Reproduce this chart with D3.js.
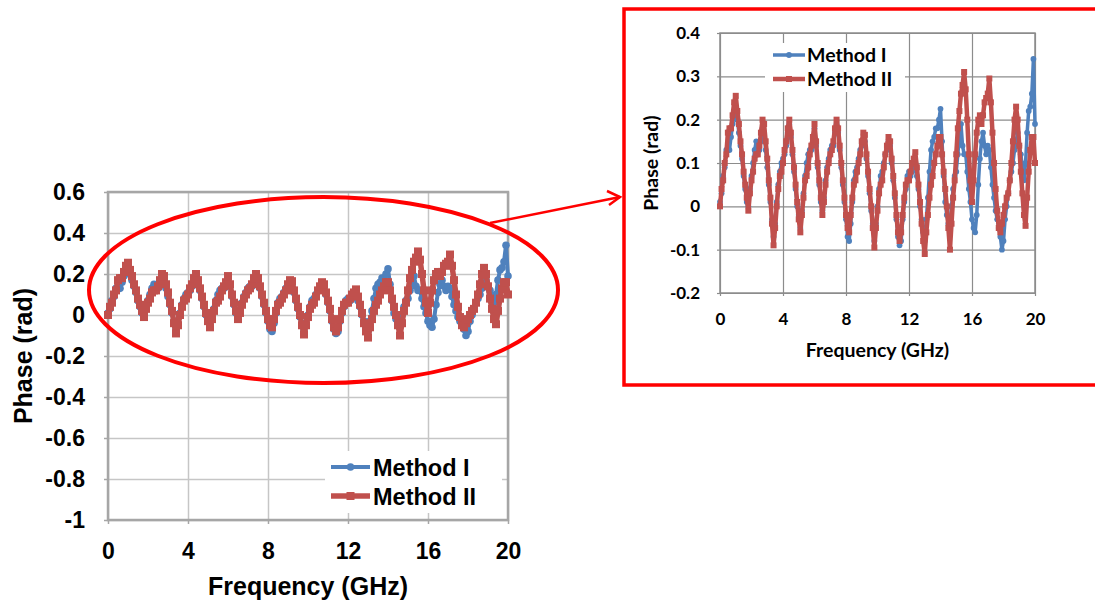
<!DOCTYPE html>
<html><head><meta charset="utf-8">
<script src="https://cdn.jsdelivr.net/npm/d3@7"></script>
<style>body{margin:0;background:#fff} svg{display:block}</style>
</head><body><svg id="c" width="1095" height="605"></svg>
<script>
// Frequency grid (GHz)
const frequency = [
0.0,0.1,0.2,0.3,0.4,0.5,0.6,0.7,0.8,0.9,1.0,1.1,1.2,1.3,1.4,1.5,1.6,1.7,1.8,1.9,
2.0,2.1,2.2,2.3,2.4,2.5,2.6,2.7,2.8,2.9,3.0,3.1,3.2,3.3,3.4,3.5,3.6,3.7,3.8,3.9,
4.0,4.1,4.2,4.3,4.4,4.5,4.6,4.7,4.8,4.9,5.0,5.1,5.2,5.3,5.4,5.5,5.6,5.7,5.8,5.9,
6.0,6.1,6.2,6.3,6.4,6.5,6.6,6.7,6.8,6.9,7.0,7.1,7.2,7.3,7.4,7.5,7.6,7.7,7.8,7.9,
8.0,8.1,8.2,8.3,8.4,8.5,8.6,8.7,8.8,8.9,9.0,9.1,9.2,9.3,9.4,9.5,9.6,9.7,9.8,9.9,
10.0,10.1,10.2,10.3,10.4,10.5,10.6,10.7,10.8,10.9,11.0,11.1,11.2,11.3,11.4,11.5,11.6,11.7,11.8,11.9,
12.0,12.1,12.2,12.3,12.4,12.5,12.6,12.7,12.8,12.9,13.0,13.1,13.2,13.3,13.4,13.5,13.6,13.7,13.8,13.9,
14.0,14.1,14.2,14.3,14.4,14.5,14.6,14.7,14.8,14.9,15.0,15.1,15.2,15.3,15.4,15.5,15.6,15.7,15.8,15.9,
16.0,16.1,16.2,16.3,16.4,16.5,16.6,16.7,16.8,16.9,17.0,17.1,17.2,17.3,17.4,17.5,17.6,17.7,17.8,17.9,
18.0,18.1,18.2,18.3,18.4,18.5,18.6,18.7,18.8,18.9,19.0,19.1,19.2,19.3,19.4,19.5,19.6,19.7,19.8,19.9,
20.0];

// Method I phase (rad)
const methodI = [
0.01,0.03,0.07,0.09,0.13,0.14,0.13,0.16,0.19,0.21,0.22,0.20,0.17,0.14,0.11,0.07,0.04,0.01,0.00,0.04,
0.07,0.10,0.13,0.15,0.14,0.13,0.15,0.18,0.17,0.13,0.09,0.05,0.01,-0.03,-0.07,-0.04,0.01,0.05,0.08,0.10,
0.11,0.12,0.14,0.17,0.19,0.16,0.12,0.08,0.04,0.00,-0.02,-0.05,-0.01,0.03,0.07,0.10,0.12,0.13,0.13,0.15,
0.18,0.14,0.09,0.05,0.01,-0.01,0.02,0.06,0.09,0.11,0.13,0.14,0.14,0.17,0.19,0.17,0.13,0.09,0.05,0.01,
-0.03,-0.07,-0.08,-0.04,0.01,0.06,0.08,0.09,0.11,0.13,0.14,0.15,0.15,0.11,0.07,0.03,-0.01,-0.04,-0.08,-0.04,
0.00,0.04,0.07,0.08,0.10,0.12,0.13,0.15,0.14,0.10,0.06,0.02,-0.03,-0.07,-0.09,-0.08,-0.03,0.01,0.04,0.07,
0.08,0.07,0.08,0.10,0.10,0.07,0.04,0.00,-0.03,-0.06,-0.08,-0.03,0.02,0.08,0.13,0.15,0.16,0.18,0.18,0.20,
0.225,0.15,0.07,0.01,-0.02,-0.04,-0.04,0.00,0.04,0.07,0.08,0.12,0.16,0.19,0.14,0.12,0.12,0.08,0.04,0.01,
-0.03,-0.05,-0.06,-0.02,0.05,0.11,0.15,0.17,0.14,0.12,0.14,0.13,0.09,0.05,0.02,-0.01,-0.03,-0.05,-0.07,-0.10,
-0.08,-0.03,0.00,0.03,0.06,0.08,0.10,0.13,0.15,0.17,0.14,0.12,0.09,0.06,0.10,0.17,0.22,0.23,0.26,0.34,
0.19];

// Method II phase (rad)
const methodII = [
0.00,0.04,0.06,0.10,0.12,0.17,0.18,0.18,0.21,0.24,0.255,0.22,0.19,0.15,0.12,0.08,0.05,0.02,-0.01,0.03,
0.06,0.08,0.11,0.12,0.12,0.14,0.17,0.20,0.19,0.15,0.11,0.06,0.02,-0.04,-0.09,-0.05,0.00,0.04,0.07,0.08,
0.10,0.13,0.15,0.18,0.20,0.17,0.13,0.09,0.05,0.01,-0.03,-0.06,-0.02,0.02,0.06,0.07,0.09,0.12,0.14,0.16,
0.19,0.15,0.10,0.06,0.02,-0.02,0.01,0.05,0.08,0.10,0.12,0.13,0.15,0.18,0.20,0.18,0.14,0.10,0.06,0.02,
-0.02,-0.05,-0.06,-0.02,0.02,0.05,0.06,0.08,0.10,0.12,0.15,0.17,0.165,0.12,0.08,0.04,0.00,-0.05,-0.095,-0.05,
-0.01,0.03,0.05,0.06,0.09,0.12,0.14,0.16,0.15,0.11,0.07,0.03,-0.02,-0.06,-0.08,-0.06,-0.02,0.02,0.05,0.06,
0.06,0.08,0.10,0.11,0.125,0.09,0.05,0.01,-0.04,-0.08,-0.11,-0.06,-0.02,0.02,0.05,0.07,0.10,0.12,0.14,0.16,
0.16,0.12,0.08,0.04,0.00,-0.05,-0.10,-0.04,0.02,0.06,0.12,0.18,0.22,0.26,0.28,0.31,0.27,0.20,0.12,0.06,
0.01,0.06,0.12,0.17,0.20,0.21,0.19,0.21,0.24,0.25,0.26,0.295,0.24,0.17,0.10,0.04,-0.01,-0.05,-0.06,-0.04,
-0.02,0.00,0.02,0.03,0.06,0.10,0.15,0.20,0.23,0.20,0.14,0.08,0.03,-0.02,-0.045,0.02,0.08,0.13,0.16,0.16,
0.10];

const seriesNames = ["Method I", "Method II"];
const seriesColors = ["#4F81BD", "#C0504D"];
const xTicks = [0, 4, 8, 12, 16, 20];
const yTicksMain = [0.6, 0.4, 0.2, 0, -0.2, -0.4, -0.6, -0.8, -1];
const yTicksInset = [0.4, 0.3, 0.2, 0.1, 0, -0.1, -0.2];
const xTitle = "Frequency (GHz)";
const yTitle = "Phase (rad)";

const svg = d3.select("#c");
const fmt = d => d === 0 ? "0" : String(+d.toFixed(1));

function drawChart(cfg) {
  const g = svg.append("g");
  const x = d3.scaleLinear().domain([0, 20]).range([cfg.left, cfg.right]);
  const y = d3.scaleLinear().domain(cfg.yDomain).range([cfg.bottom, cfg.top]);
  const W = cfg.right - cfg.left, H = cfg.bottom - cfg.top;

  // gridlines
  g.append("g").attr("transform", `translate(${cfg.left},0)`)
    .call(d3.axisLeft(y).tickValues(cfg.yTicks).tickSize(-W).tickFormat(""))
    .call(s => s.select(".domain").remove())
    .call(s => s.selectAll("line").attr("stroke", cfg.gridColor).attr("stroke-width", cfg.gridWidth));
  g.append("g").attr("transform", `translate(0,${cfg.bottom})`)
    .call(d3.axisBottom(x).tickValues(xTicks).tickSize(-H).tickFormat(""))
    .call(s => s.select(".domain").remove())
    .call(s => s.selectAll("line").attr("stroke", cfg.gridColor).attr("stroke-width", cfg.gridWidth));

  // axes labels
  const ya = g.append("g").attr("transform", `translate(${cfg.left},0)`)
    .call(d3.axisLeft(y).tickValues(cfg.yTicks).tickSize(cfg.tickSize).tickPadding(cfg.pad).tickFormat(fmt));
  const xa = g.append("g").attr("transform", `translate(0,${cfg.bottom})`)
    .call(d3.axisBottom(x).tickValues(xTicks).tickSize(cfg.tickSize).tickPadding(cfg.pad).tickFormat(fmt));
  [ya, xa].forEach(a => {
    a.select(".domain").remove();
    a.selectAll("line").attr("stroke", cfg.borderColor).attr("stroke-width", cfg.gridWidth);
    a.selectAll("text").attr("font-family", cfg.font).attr("font-weight", "bold")
      .attr("font-size", cfg.tickFont).attr("fill", "#000");
  });

  // border
  g.append("rect").attr("x", cfg.left).attr("y", cfg.top).attr("width", W).attr("height", H)
    .attr("fill", "none").attr("stroke", cfg.borderColor).attr("stroke-width", cfg.borderWidth);

  // legend background
  g.append("rect").attr("x", cfg.legend.x0).attr("y", cfg.legend.y0)
    .attr("width", cfg.legend.w).attr("height", cfg.legend.h).attr("fill", "#fff");

  // series
  const data = [methodI, methodII].map(vals => vals.map((v, i) => [frequency[i], v]));
  const line = d3.line().x(d => x(d[0])).y(d => y(d[1]));
  data.forEach((pts, k) => {
    const sg = g.append("g");
    sg.append("path").datum(pts).attr("d", line).attr("fill", "none")
      .attr("stroke", seriesColors[k]).attr("stroke-width", cfg.lineW[k]).attr("stroke-linejoin", "round");
    if (k === 0) {
      sg.selectAll("circle").data(pts).join("circle")
        .attr("cx", d => x(d[0])).attr("cy", d => y(d[1])).attr("r", cfg.markR)
        .attr("fill", seriesColors[k]);
    } else {
      sg.selectAll("rect").data(pts).join("rect")
        .attr("x", d => x(d[0]) - cfg.sq / 2).attr("y", d => y(d[1]) - cfg.sq / 2)
        .attr("width", cfg.sq).attr("height", cfg.sq).attr("fill", seriesColors[k]);
    }
  });

  // legend
  seriesNames.forEach((name, k) => {
    const ly = cfg.legend.rows[k];
    g.append("line").attr("x1", cfg.legend.lx0).attr("x2", cfg.legend.lx1).attr("y1", ly).attr("y2", ly)
      .attr("stroke", seriesColors[k]).attr("stroke-width", cfg.lineW[k]);
    const mx = (cfg.legend.lx0 + cfg.legend.lx1) / 2;
    if (k === 0) g.append("circle").attr("cx", mx).attr("cy", ly).attr("r", cfg.markR).attr("fill", seriesColors[k]);
    else g.append("rect").attr("x", mx - cfg.sq / 2).attr("y", ly - cfg.sq / 2).attr("width", cfg.sq).attr("height", cfg.sq).attr("fill", seriesColors[k]);
    g.append("text").attr("x", cfg.legend.tx).attr("y", ly + cfg.legend.dy).text(name)
      .attr("font-family", cfg.font).attr("font-weight", "bold").attr("font-size", cfg.legend.font).attr("fill", "#000");
  });

  // titles
  g.append("text").attr("x", (cfg.left + cfg.right) / 2).attr("y", cfg.xTitleY).attr("text-anchor", "middle")
    .attr("font-family", cfg.font).attr("font-weight", "bold").attr("font-size", cfg.titleFont).text(xTitle);
  g.append("text").attr("transform", `translate(${cfg.yTitleX},${(cfg.top + cfg.bottom) / 2}) rotate(-90)`)
    .attr("text-anchor", "middle")
    .attr("font-family", cfg.font).attr("font-weight", "bold").attr("font-size", cfg.titleFont).text(yTitle);
}

// main chart
drawChart({
  left: 108, right: 508, top: 192, bottom: 520, yDomain: [-1, 0.6], yTicks: yTicksMain,
  gridColor: "#c6c6c6", gridWidth: 1.5, borderColor: "#a6a6a6", borderWidth: 2.5,
  tickSize: 4, pad: 19, font: "'Liberation Sans', Arial, sans-serif", tickFont: 23, titleFont: 25,
  lineW: [4, 5.5], markR: 3.8, sq: 8,
  legend: { x0: 325, y0: 451, w: 177, h: 62, rows: [467, 496], lx0: 331, lx1: 370, tx: 373, dy: 8.5, font: 23.5 },
  xTitleY: 595, yTitleX: 32
});

// inset chart
drawChart({
  left: 720, right: 1035, top: 33, bottom: 293, yDomain: [-0.2, 0.4], yTicks: yTicksInset,
  gridColor: "#8c8c8c", gridWidth: 1.2, borderColor: "#8c8c8c", borderWidth: 1.5,
  tickSize: 3, pad: 17, font: "Lato, 'Open Sans', sans-serif", tickFont: 17, titleFont: 19.5,
  lineW: [3.5, 4.5], markR: 2.9, sq: 6,
  legend: { x0: 765, y0: 43, w: 140, h: 49, rows: [55, 79], lx0: 773, lx1: 805, tx: 807, dy: 7, font: 19.5 },
  xTitleY: 357, yTitleX: 658
});

// annotations: ellipse, arrow, inset frame
const ann = svg.append("g").attr("fill", "none").attr("stroke", "#ff0000");
ann.append("ellipse").attr("cx", 323.5).attr("cy", 290).attr("rx", 234.5).attr("ry", 93).attr("stroke-width", 4);
ann.append("line").attr("x1", 490).attr("y1", 223).attr("x2", 620).attr("y2", 197).attr("stroke-width", 2.5);
ann.append("path").attr("d", "M607,191 L620,197 L609,205").attr("stroke-width", 2.5).attr("stroke-linejoin", "miter");
ann.append("rect").attr("x", 624).attr("y", 9).attr("width", 500).attr("height", 376).attr("stroke-width", 3.5);
</script></body></html>
